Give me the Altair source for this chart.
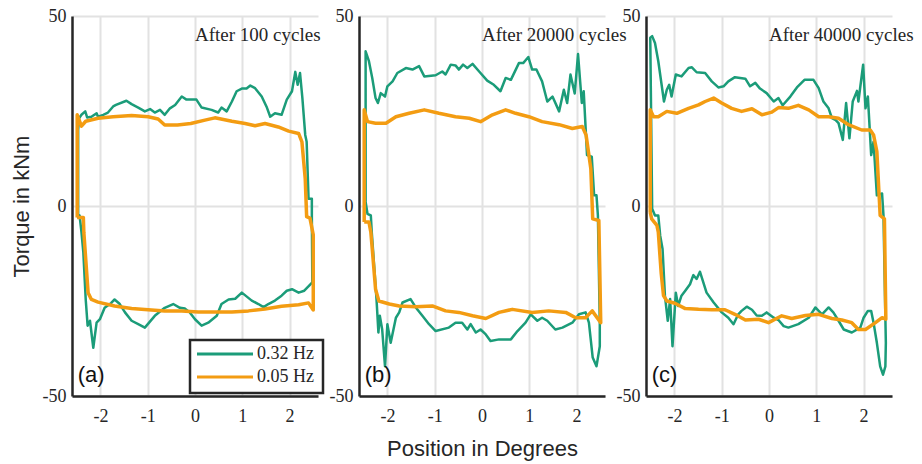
import altair as alt
import pandas as pd

GREEN = "#1b9c79"
ORANGE = "#f39c12"
INK = "#262626"

series_names = ["0.32 Hz", "0.05 Hz"]
panel_titles = ["After 100 cycles", "After 20000 cycles", "After 40000 cycles"]
panel_labels = ["(a)", "(b)", "(c)"]
x_ticks = [-2, -1, 0, 1, 2]
y_ticks = [-50, 0, 50]
title_pos = [0.0, 45.0]
label_pos = [-2.48, -44.5]

# ---------------- panel (a) ----------------
ga_x = [-2.47, -2.45, -2.40, -2.32, -2.28, -2.19, -2.08, -2.05, -1.94, -1.84, -1.73, -1.67, -1.45, -1.34,
        -1.20, -1.06, -0.95, -0.85, -0.74, -0.64, -0.53, -0.42, -0.28, -0.18, 0.03, 0.14, 0.35, 0.49, 0.56,
        0.67, 0.78, 0.88, 0.99, 1.09, 1.17, 1.27, 1.41, 1.52, 1.59, 1.69, 1.83, 1.94, 2.05, 2.12, 2.17, 2.22,
        2.27, 2.33, 2.36, 2.40, 2.47, 2.47, 2.48,
        2.31, 2.19, 2.05, 1.94, 1.83, 1.69, 1.55, 1.45, 1.34, 1.20, 0.99, 0.85, 0.71, 0.56, 0.46, 0.28, 0.14,
        0.00, -0.11, -0.21, -0.32, -0.46, -0.64, -0.85, -1.06, -1.20, -1.34, -1.48, -1.59, -1.70, -1.77,
        -1.91, -2.01, -2.08, -2.15, -2.22, -2.27, -2.31, -2.36, -2.40, -2.44, -2.47, -2.47]
ga_y = [20.0, 23.1, 24.0, 24.9, 23.3, 23.5, 24.4, 23.5, 24.0, 24.6, 26.2, 26.6, 27.7, 26.8,
        25.9, 24.9, 25.5, 24.6, 25.3, 24.0, 25.7, 26.6, 28.8, 28.0, 28.0, 25.9, 25.3, 24.6, 25.9,
        24.9, 27.5, 30.2, 30.9, 30.9, 31.7, 31.0, 28.8, 25.9, 23.5, 24.4, 24.0, 28.0, 30.2, 35.3, 31.9, 35.0,
        28.4, 18.7, 16.9, 1.9, 1.9, -2.5, -20.1,
        -22.3, -22.8, -21.9, -22.3, -23.6, -24.9, -25.8, -26.6, -25.8, -24.9, -22.8, -24.4, -24.6, -25.8, -28.9,
        -30.7, -31.5, -29.8, -28.0, -27.0, -26.8, -25.8, -26.8, -28.9, -32.0, -31.1, -30.2, -28.0, -25.8,
        -24.6, -25.5, -26.8, -29.8, -30.7, -37.3, -30.2, -31.5, -24.6, -12.3, -6.9, -2.5, -3.0, 20.0]
oa_x = [-2.49, -2.49, -2.40, -2.31, -2.05, -1.73, -1.34, -0.99, -0.78, -0.64, -0.37, -0.09, 0.21, 0.42,
        0.78, 1.06, 1.27, 1.48, 1.76, 1.98, 2.19, 2.26, 2.33, 2.36, 2.43, 2.50, 2.50,
        2.40, 2.19, 1.83, 1.48, 1.13, 0.78, 0.42, 0.07, -0.28, -0.64, -0.99, -1.34, -1.70, -2.05, -2.19,
        -2.26, -2.30, -2.35, -2.36, -2.47, -2.49]
oa_y = [-3.0, 24.0, 21.0, 22.3, 23.1, 23.5, 23.8, 23.5, 22.9, 21.3, 21.3, 21.7, 22.6, 23.2,
        22.3, 21.7, 21.1, 21.7, 20.8, 19.7, 19.1, 16.9, 7.2, -2.8, -3.2, -7.6, -27.4,
        -25.5, -26.0, -26.4, -27.1, -27.6, -27.9, -27.9, -27.9, -27.6, -27.6, -27.3, -27.0, -26.3, -25.3, -24.6,
        -22.8, -15.7, -6.9, -3.0, -3.0, -3.0]

# ---------------- panel (b) ----------------
gb_x = [-2.46, -2.46, -2.39, -2.32, -2.25, -2.20, -2.14, -2.05, -2.00, -1.89, -1.79, -1.61, -1.47, -1.33,
        -1.22, -0.98, -0.84, -0.77, -0.66, -0.56, -0.49, -0.40, -0.31, -0.20, -0.06, 0.11, 0.25, 0.39, 0.50,
        0.61, 0.78, 0.87, 0.98, 1.06, 1.15, 1.27, 1.38, 1.49, 1.63, 1.73, 1.80, 1.87, 1.96, 2.03, 2.11, 2.15,
        2.22, 2.32, 2.37, 2.42, 2.45, 2.49, 2.49,
        2.42, 2.34, 2.26, 2.19, 2.05, 1.91, 1.70, 1.55, 1.38, 1.27, 1.17, 1.03, 0.92, 0.82, 0.75, 0.61, 0.36,
        0.18, 0.08, -0.03, -0.13, -0.24, -0.31, -0.42, -0.56, -0.70, -0.98, -1.12, -1.26, -1.40, -1.51, -1.68,
        -1.75, -1.82, -1.93, -2.00, -2.05, -2.11, -2.16, -2.19, -2.23, -2.28, -2.33, -2.35, -2.42, -2.46]
gb_y = [1.1, 40.7, 38.1, 33.7, 28.4, 27.1, 29.7, 28.8, 31.5, 32.8, 35.0, 36.3, 35.9, 36.8,
        34.1, 34.4, 35.4, 34.6, 37.2, 37.0, 35.9, 37.2, 36.3, 37.4, 35.4, 33.0, 31.9, 30.2, 33.7,
        33.2, 37.6, 37.6, 39.2, 35.9, 35.9, 32.8, 27.5, 28.8, 24.9, 30.6, 27.1, 34.6, 29.6, 40.0, 27.1, 30.2,
        13.4, 13.0, 2.8, 2.8, -2.5, -30.7, -36.9,
        -42.2, -39.9, -30.7, -28.0, -28.5, -30.7, -32.0, -32.5, -30.2, -29.4, -30.2, -28.5, -30.7, -32.0, -32.9,
        -35.1, -35.1, -35.5, -33.8, -32.5, -33.3, -31.1, -32.5, -30.7, -30.7, -32.0, -32.9, -31.1, -28.9,
        -26.7, -24.5, -25.4, -28.0, -29.4, -36.0, -31.1, -42.2, -32.5, -28.9, -33.3, -24.5, -15.7, -6.9,
        -2.5, -2.1, 1.1]
ob_x = [-2.49, -2.49, -2.42, -2.25, -2.03, -1.82, -1.54, -1.22, -0.91, -0.56, -0.27, -0.03, 0.22, 0.50,
        0.71, 0.99, 1.27, 1.63, 1.91, 2.12, 2.20, 2.30, 2.34, 2.47, 2.51,
        2.33, 2.19, 1.98, 1.77, 1.41, 1.06, 0.64, 0.36, 0.08, -0.20, -0.49, -0.77, -1.05, -1.40, -1.75,
        -1.96, -2.18, -2.25, -2.32, -2.35, -2.39, -2.49]
ob_y = [-4.2, 25.3, 22.2, 21.8, 21.8, 23.5, 24.4, 25.3, 24.4, 23.5, 23.1, 22.2, 24.0, 25.3,
        24.4, 23.5, 22.2, 21.4, 20.4, 20.9, 18.7, 9.9, -3.4, -3.8, -30.7,
        -27.6, -29.4, -29.4, -28.0, -27.6, -28.0, -27.2, -28.0, -29.6, -28.9, -28.0, -27.6, -26.3, -26.5,
        -26.3, -25.8, -25.0, -21.9, -11.3, -6.9, -4.2, -4.2]

# ---------------- panel (c) ----------------
gc_x = [-2.47, -2.51, -2.47, -2.41, -2.34, -2.27, -2.22, -2.16, -2.11, -2.06, -1.97, -1.85, -1.70, -1.63,
        -1.53, -1.35, -1.21, -1.07, -0.96, -0.86, -0.72, -0.50, -0.40, -0.29, -0.19, -0.05, 0.10, 0.20, 0.29,
        0.45, 0.59, 0.75, 0.94, 1.05, 1.15, 1.26, 1.33, 1.40, 1.47, 1.56, 1.63, 1.70, 1.77, 1.86, 1.89, 1.99,
        2.04, 2.09, 2.16, 2.21, 2.28, 2.39, 2.42, 2.47,
        2.46, 2.41, 2.35, 2.28, 2.21, 2.16, 2.09, 2.00, 1.93, 1.75, 1.58, 1.47, 1.36, 1.26, 1.12, 0.98, 0.84,
        0.62, 0.41, 0.31, 0.20, 0.10, -0.05, -0.15, -0.26, -0.36, -0.47, -0.58, -0.65, -0.75, -0.86, -1.00,
        -1.17, -1.32, -1.46, -1.53, -1.60, -1.67, -1.77, -1.85, -1.92, -1.97, -2.04, -2.09, -2.14, -2.20,
        -2.25, -2.30, -2.34, -2.41, -2.47]
gc_y = [-0.7, 44.3, 44.7, 42.9, 38.1, 31.9, 27.5, 30.6, 31.9, 28.8, 34.6, 34.1, 36.3, 36.5,
        35.2, 35.0, 32.8, 31.2, 31.5, 32.8, 33.9, 33.5, 31.5, 32.4, 30.9, 29.7, 27.5, 28.4, 26.5,
        28.8, 31.2, 33.2, 33.2, 31.0, 27.5, 25.7, 23.1, 22.7, 21.8, 17.4, 27.1, 17.8, 27.5, 30.3, 27.5, 37.2,
        25.7, 28.8, 13.4, 16.9, 2.8, 3.3, -2.5, -36.0,
        -42.2, -44.4, -42.2, -36.0, -30.7, -27.6, -27.6, -29.4, -32.0, -33.3, -32.5, -30.2, -28.0, -26.7, -28.5,
        -26.7, -29.4, -31.1, -32.0, -31.6, -30.0, -29.4, -28.0, -28.9, -28.8, -27.3, -26.5, -27.6, -28.5,
        -31.1, -29.4, -28.0, -25.4, -22.8, -17.3, -19.2, -18.2, -20.6, -22.3, -23.6, -26.3, -22.8, -36.9,
        -24.5, -30.2, -23.6, -11.3, -7.8, -2.5, -2.5, -0.7]
oc_x = [-2.51, -2.51, -2.44, -2.34, -2.16, -1.95, -1.70, -1.49, -1.35, -1.17, -1.00, -0.79, -0.58, -0.36,
        -0.15, 0.06, 0.20, 0.41, 0.62, 0.84, 1.05, 1.26, 1.47, 1.68, 1.96, 2.14, 2.21, 2.28, 2.32, 2.35,
        2.44, 2.47,
        2.39, 2.25, 2.04, 1.89, 1.75, 1.54, 1.33, 1.05, 0.77, 0.48, 0.27, -0.01, -0.22, -0.50, -0.72, -0.93,
        -1.21, -1.49, -1.77, -1.99, -2.16, -2.23, -2.28, -2.34, -2.37, -2.48, -2.51]
oc_y = [-1.7, 25.3, 23.5, 23.5, 24.9, 24.4, 25.7, 26.6, 27.5, 28.4, 27.1, 25.7, 24.9, 25.6,
        24.0, 24.7, 25.9, 25.7, 26.5, 25.3, 23.5, 23.5, 23.1, 21.4, 20.0, 20.0, 18.7, 14.3, 4.6, -2.5,
        -3.4, -29.8,
        -29.4, -30.7, -32.5, -32.5, -30.7, -30.0, -29.6, -28.5, -28.8, -29.6, -28.9, -30.7, -29.8, -30.0,
        -28.5, -27.3, -27.3, -27.2, -27.0, -25.6, -25.0, -23.6, -17.5, -6.9, -5.1, -3.4, -1.7]

panels = [
    (ga_x, ga_y, oa_x, oa_y),
    (gb_x, gb_y, ob_x, ob_y),
    (gc_x, gc_y, oc_x, oc_y),
]

W, H = 246, 380
color_scale = alt.Scale(domain=series_names, range=[GREEN, ORANGE])
MINUS_FIX = "replace(datum.label, '\u2212', '-')"


def legend_layers():
    one = pd.DataFrame({"k": [0]})
    box = alt.Chart(one).mark_rect(fill="white", stroke=INK, strokeWidth=2.5).encode(
        x=alt.value(118), x2=alt.value(251), y=alt.value(324), y2=alt.value(377))
    layers = [box]
    for j, (name, col) in enumerate(zip(series_names, [GREEN, ORANGE])):
        ry = 338 + 23 * j
        layers.append(alt.Chart(one).mark_rule(color=col, strokeWidth=3).encode(
            x=alt.value(125), x2=alt.value(181), y=alt.value(ry)))
        layers.append(alt.Chart(one).mark_text(text=name, align="left", baseline="middle",
                                               font="Liberation Serif", fontSize=18, color=INK).encode(
            x=alt.value(185), y=alt.value(ry)))
    return layers


def make_panel(i):
    gx, gy, ox, oy = panels[i]
    df = pd.concat([
        pd.DataFrame({"x": gx, "y": gy, "series": series_names[0], "idx": range(len(gx))}),
        pd.DataFrame({"x": ox, "y": oy, "series": series_names[1], "idx": range(len(ox))}),
    ])
    common = dict(labelFont="Liberation Serif", labelFontSize=18, labelColor=INK, labelExpr=MINUS_FIX,
                  tickSize=0, grid=True, gridColor="#e2e2e2", gridWidth=2,
                  domainColor=INK, domainWidth=2.5, labelFlush=False)
    if i == 1:
        xaxis = alt.Axis(values=x_ticks, labelPadding=11, title="Position in Degrees",
                         titleFont="Liberation Sans", titleFontSize=22, titleFontWeight="normal",
                         titleColor=INK, titlePadding=13, **common)
    else:
        xaxis = alt.Axis(values=x_ticks, labelPadding=11, title=None, **common)
    if i == 0:
        yaxis = alt.Axis(values=y_ticks, labelPadding=6, title="Torque in kNm",
                         titleFont="Liberation Sans", titleFontSize=22, titleFontWeight="normal",
                         titleColor=INK, titlePadding=9, **common)
    else:
        yaxis = alt.Axis(values=y_ticks, labelPadding=6, title=None, **common)

    base = alt.Chart(df).encode(
        x=alt.X("x:Q", scale=alt.Scale(domain=[-2.6, 2.6], nice=False, zero=False), axis=xaxis),
        y=alt.Y("y:Q", scale=alt.Scale(domain=[-50, 50], nice=False, zero=False), axis=yaxis),
        color=alt.Color("series:N", scale=color_scale, legend=None),
        order=alt.Order("idx:Q"),
    )
    green = base.transform_filter(alt.datum.series == series_names[0]).mark_line(
        strokeWidth=2.5, strokeJoin="round")
    orange = base.transform_filter(alt.datum.series == series_names[1]).mark_line(
        strokeWidth=3.5, strokeJoin="round")

    ann = pd.DataFrame({"x": [title_pos[0]], "y": [title_pos[1]], "t": [panel_titles[i]]})
    title_txt = alt.Chart(ann).mark_text(align="left", baseline="middle", font="Liberation Serif",
                                         fontSize=19, color=INK).encode(
        x="x:Q", y="y:Q", text="t:N")
    lab = pd.DataFrame({"x": [label_pos[0]], "y": [label_pos[1]], "t": [panel_labels[i]]})
    label_txt = alt.Chart(lab).mark_text(align="left", baseline="middle", font="Liberation Sans",
                                         fontSize=22, color="#111111").encode(
        x="x:Q", y="y:Q", text="t:N")
    layers = [green, orange, title_txt, label_txt]
    if i == 0:
        layers += legend_layers()
    return alt.layer(*layers).properties(width=W, height=H)


chart = alt.hconcat(make_panel(0), make_panel(1), make_panel(2), spacing=41, bounds="flush").configure_view(
    stroke=None
).properties(
    padding={"left": 10, "top": 7, "right": 5, "bottom": 5}, background="white"
)

chart.save("out.html", embed_options={"renderer": "svg", "actions": False})
